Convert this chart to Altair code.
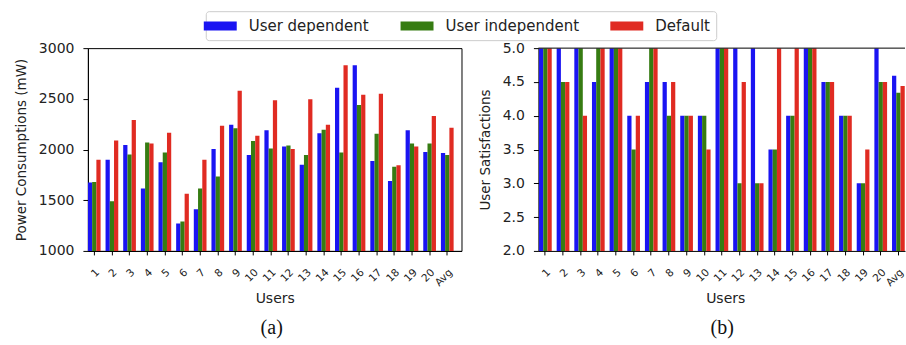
import altair as alt
import pandas as pd

# ---- data -----------------------------------------------------------------
users = [str(i) for i in range(1, 21)] + ["Avg"]
series_names = ["User dependent", "User independent", "Default"]
series_colors = ["#1a14f2", "#367c12", "#e02b22"]

power_user_dependent = [1675, 1900, 2045, 1615, 1875, 1270, 1410, 2005, 2245, 1945,
                        2190, 2030, 1850, 2160, 2610, 2830, 1888, 1690, 2190, 1975, 1965]
power_user_independent = [1680, 1490, 1950, 2070, 1970, 1290, 1615, 1735, 2210, 2085,
                          2010, 2040, 1945, 2195, 1970, 2440, 2155, 1830, 2060, 2060, 1945]
power_default = [1900, 2090, 2290, 2060, 2165, 1565, 1900, 2235, 2580, 2135,
                 2485, 2005, 2495, 2245, 2830, 2540, 2550, 1845, 2030, 2330, 2215]

satisfaction_user_dependent = [5, 5, 5, 4.5, 5, 4, 4.5, 4.5, 4, 4,
                               5, 5, 5, 3.5, 4, 5, 4.5, 4, 3, 5, 4.59]
satisfaction_user_independent = [5, 4.5, 5, 5, 5, 3.5, 5, 4, 4, 4,
                                 5, 3, 3, 3.5, 4, 5, 4.5, 4, 3, 4.5, 4.34]
satisfaction_default = [5, 4.5, 4, 5, 5, 4, 5, 4.5, 4, 3.5,
                        5, 4.5, 3, 5, 5, 5, 4.5, 4, 3.5, 4.5, 4.44]

power_ticks = [1000, 1500, 2000, 2500, 3000]
satisfaction_ticks = [2.0, 2.5, 3.0, 3.5, 4.0, 4.5, 5.0]


def to_long(columns):
    rows = []
    for name, values in zip(series_names, columns):
        for user, v in zip(users, values):
            rows.append({"user": user, "series": name, "value": v})
    return pd.DataFrame(rows)


power_df = to_long([power_user_dependent, power_user_independent, power_default])
satisfaction_df = to_long([satisfaction_user_dependent, satisfaction_user_independent,
                           satisfaction_default])

# ---- styling helpers ------------------------------------------------------
FONT = "DejaVu Sans"
TEXT = "#222222"
STEP = 17.67      # pixels per user group
INNER = 0.28      # gap between groups (fraction of a step)
PLOT_H = 203


def band_scale(width, align):
    outer = (width / STEP - len(users) + INNER) / 2
    return alt.Scale(paddingInner=INNER, paddingOuter=max(outer, 0.0), align=align)


color = alt.Color(
    "series:N",
    scale=alt.Scale(domain=series_names, range=series_colors),
    legend=alt.Legend(
        title=None,
        orient="none",
        legendX=118,
        legendY=-37,
        direction="horizontal",
        symbolType="M-2,-0.55H2V0.55H-2Z",
        symbolSize=272,
        symbolStrokeWidth=0,
        symbolOpacity=1,
        labelFont=FONT,
        labelFontSize=15,
        labelColor=TEXT,
        labelOffset=20,
        columnPadding=31,
        padding=6,
        strokeColor="#cccccc",
        fillColor="#ffffff",
        cornerRadius=3,
    ),
)


def panel(df, y_title, y_domain, y_ticks, y_format, width, align, caption, framed):
    x = alt.X(
        "user:N",
        sort=users,
        scale=band_scale(width, align),
        axis=alt.Axis(
            title="Users",
            titleX=187,
            titlePadding=3,
            titleFontSize=14,
            labelAngle=315,
            labelAlign="right",
            labelBaseline="top",
            labelFontSize=10.5,
            labelPadding=12,
            labelOverlap=False,
            labelFlush=False,
            tickSize=4,
        ),
    )
    y = alt.Y(
        "value:Q",
        scale=alt.Scale(domain=y_domain, nice=False, zero=False),
        axis=alt.Axis(
            title=y_title,
            values=y_ticks,
            format=y_format,
            labelFontSize=14,
            labelPadding=9,
            tickSize=5,
            titleFontSize=13.5,
            titlePadding=10,
        ),
    )
    bars = alt.Chart(df).mark_bar(clip=True).encode(
        x=x,
        xOffset=alt.XOffset("series:N", sort=series_names,
                            scale=alt.Scale(paddingInner=0, paddingOuter=0)),
        y=y,
        y2=alt.datum(y_domain[0]),
        color=color,
    )
    label = alt.Chart(pd.DataFrame({"caption": [caption]})).mark_text(
        font="Liberation Serif", fontSize=20, color="#111111", baseline="middle"
    ).encode(text="caption:N", x=alt.value(184), y=alt.value(280))

    layers = [bars, label]
    if not framed:
        top_edge = alt.Chart(pd.DataFrame({"edge": [0]})).mark_rule(
            color="#000000", strokeWidth=1
        ).encode(x=alt.value(0), x2=alt.value(width), y=alt.value(0))
        layers.append(top_edge)

    chart = alt.layer(*layers).properties(width=width, height=PLOT_H)
    if not framed:
        chart = chart.properties(view=alt.ViewBackground(stroke="transparent"))
    return chart


left = panel(power_df, "Power Consumptions (mW)", [1000, 3000], power_ticks, "d",
             374, 0.0, "(a)", True)
right = panel(satisfaction_df, "User Satisfactions", [2.0, 5.0], satisfaction_ticks, ".1f",
              367, 0.7, "(b)", False)

chart = (
    alt.hconcat(left, right, spacing=77, bounds="flush")
    .properties(padding={"left": 13, "top": 10, "right": 0, "bottom": 4},
                background="#ffffff")
    .configure_view(stroke="#000000", strokeWidth=1)
    .configure_axis(
        domainColor="#000000",
        tickColor="#000000",
        labelFont=FONT,
        titleFont=FONT,
        labelColor=TEXT,
        titleColor=TEXT,
        titleFontWeight="normal",
        grid=False,
    )
)

chart.save("out.html", embed_options={"renderer": "svg", "actions": False})
